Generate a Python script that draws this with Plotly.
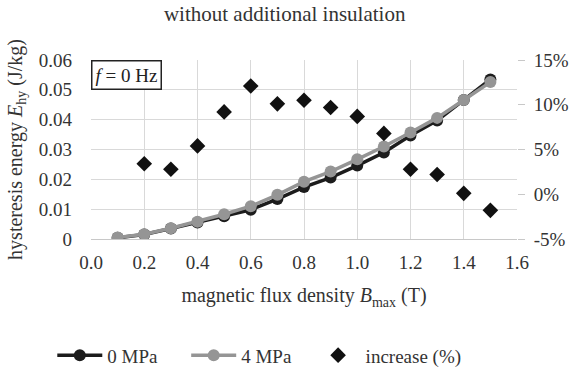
import plotly.graph_objects as go

b_max = [0.1, 0.2, 0.3, 0.4, 0.5, 0.6, 0.7, 0.8, 0.9, 1.0, 1.1, 1.2, 1.3, 1.4, 1.5]
e_0mpa = [0.0004, 0.0015, 0.0035, 0.0055, 0.0076, 0.0098, 0.0134, 0.0174, 0.0206,
          0.0246, 0.0290, 0.0347, 0.0397, 0.0466, 0.0535]
e_4mpa = [0.0005, 0.0016, 0.0036, 0.0058, 0.0083, 0.0110, 0.0148, 0.0192, 0.0226,
          0.0267, 0.0310, 0.0357, 0.0406, 0.0466, 0.0526]
b_inc = [0.2, 0.3, 0.4, 0.5, 0.6, 0.7, 0.8, 0.9, 1.0, 1.1, 1.2, 1.3, 1.4, 1.5]
increase = [3.4, 2.8, 5.4, 9.2, 12.1, 10.1, 10.5, 9.7, 8.7, 6.8, 2.8, 2.2, 0.1, -1.8]
y2_ticks = [-5, 0, 5, 10, 15]
y2_labels = ["-5%", "0%", "5%", "10%", "15%"]

FONT = "Liberation Serif, Times New Roman, serif"
TXT = "#333333"
F = dict(family=FONT, size=19, color=TXT)

fig = go.Figure()
fig.add_trace(go.Scatter(x=b_max, y=e_0mpa, name="0 MPa" + "\u00a0" * 5, mode="lines+markers",
                         line=dict(color="#1c1c1c", width=3.5),
                         marker=dict(color="#1c1c1c", size=12, symbol="circle")))
fig.add_trace(go.Scatter(x=b_max, y=e_4mpa, name="4 MPa" + "\u00a0" * 3, mode="lines+markers",
                         line=dict(color="#959595", width=3.5),
                         marker=dict(color="#959595", size=12, symbol="circle")))
fig.add_trace(go.Scatter(x=b_inc, y=increase, name="increase (%)", mode="markers",
                         yaxis="y2",
                         marker=dict(color="#111111", size=12, symbol="diamond")))

fig.update_layout(
    width=581, height=376,
    margin=dict(l=91, r=60, t=60, b=137),
    paper_bgcolor="white", plot_bgcolor="white",
    font=F,
    title=dict(text="without additional insulation", x=0.49, xanchor="center",
               y=0.965, yanchor="middle", font=dict(family=FONT, size=21, color=TXT)),
    xaxis=dict(range=[0, 1.6], dtick=0.2, tickformat=".1f", showgrid=True,
               gridcolor="#d9d9d9", gridwidth=1.2, zeroline=False,
               showline=True, linecolor="#c8c8c8", linewidth=1.2,
               ticks="", tickfont=F, ticklabelstandoff=6,
               title=dict(text="magnetic flux density <i>B</i><sub>max</sub> (T)",
                          font=dict(family=FONT, size=20, color=TXT), standoff=16)),
    yaxis=dict(range=[0, 0.06], dtick=0.01, showgrid=True, gridcolor="#d9d9d9",
               gridwidth=1.2, zeroline=False, showline=False, ticks="",
               tickfont=F, ticklabelstandoff=18,
               title=dict(text="hysteresis energy <i>E</i><sub>hy</sub> (J/kg)",
                          font=dict(family=FONT, size=20, color=TXT), standoff=10)),
    yaxis2=dict(range=[-5, 15], tickvals=y2_ticks, ticktext=y2_labels,
                overlaying="y", side="right",
                showgrid=False, zeroline=False, showline=False,
                ticks="outside", ticklen=7, tickcolor="#c8c8c8",
                tickfont=F, ticklabelstandoff=5),
    showlegend=True,
    legend=dict(orientation="h", xref="container", yref="container",
                x=0.09, xanchor="left", y=0.055, yanchor="middle",
                itemwidth=45, font=F),
    annotations=[dict(text="<i>f</i> = 0 Hz", xref="paper", yref="paper",
                      x=0, y=1, xanchor="left", yanchor="top", showarrow=False,
                      bordercolor="#222222", borderwidth=1.5, borderpad=3,
                      bgcolor="white", font=dict(family=FONT, size=19, color="#222222"))],
)

fig.write_html("out.html")
